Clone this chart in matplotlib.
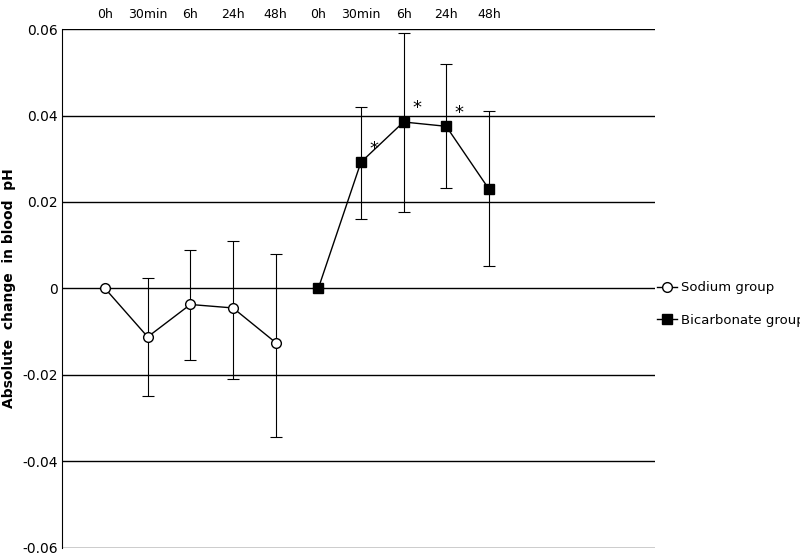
import matplotlib.pyplot as plt
import numpy as np

labels = ['0h', '30min', '6h', '24h', '48h', '0h', '30min', '6h', '24h', '48h']
sodium = [0.0, -0.0112, -0.0037, -0.0045, -0.0125]
sodium_hi = [0.0, 0.0025, 0.009, 0.011, 0.008]
sodium_lo = [0.0, -0.0248, -0.0165, -0.021, -0.0343]
bicarb = [0.0, 0.0292, 0.0385, 0.0375, 0.023]
bicarb_hi = [0.0, 0.042, 0.059, 0.052, 0.041]
bicarb_lo = [0.0, 0.016, 0.0177, 0.0232, 0.0052]
starred = [1, 2, 3]

fig = plt.figure(figsize=(8, 5.58), dpi=100)
ax = fig.add_axes([0.078, 0.018, 0.741, 0.93])

xs = np.arange(1, 6)
xb = np.arange(6, 11)
s = np.array(sodium); b = np.array(bicarb)
ax.errorbar(xs, s, yerr=[s - np.array(sodium_lo), np.array(sodium_hi) - s], color='black',
            lw=1, marker='o', mfc='white', mec='black', ms=7, capsize=4, elinewidth=0.8,
            capthick=0.8, zorder=3)
ax.errorbar(xb, b, yerr=[b - np.array(bicarb_lo), np.array(bicarb_hi) - b], color='black',
            lw=1, marker='s', mfc='black', ms=7, capsize=4, elinewidth=0.8,
            capthick=0.8, zorder=3)
# legend handles without error bars
ax.plot([], [], color='black', lw=1, marker='o', mfc='white', ms=7, label='Sodium group')
ax.plot([], [], color='black', lw=1, marker='s', mfc='black', ms=7, label='Bicarbonate group')
for i in starred:
    ax.text(xb[i] + 0.2, bicarb[i] + 0.002, '*', fontsize=13, ha='left')

ax.set_xlim(0, 13.9)
ax.set_ylim(-0.06, 0.06)
ax.set_yticks(np.arange(-0.06, 0.061, 0.02))
ax.set_yticklabels(['-0.06', '-0.04', '-0.02', '0', '0.02', '0.04', '0.06'], fontsize=10)
ax.yaxis.grid(True, color='black', lw=1)
ax.set_xticks(np.arange(1, 11))
ax.set_xticklabels(labels, fontsize=9)
ax.xaxis.tick_top()
ax.tick_params(axis='x', length=0, pad=6)
ax.tick_params(axis='y', length=0)
for sp in ['top', 'right', 'bottom']:
    ax.spines[sp].set_visible(False)
ax.set_ylabel('Absolute  change  in blood  pH', fontsize=10, fontweight='bold')
ax.legend(loc='center left', bbox_to_anchor=(0.99, 0.47), frameon=False, fontsize=9.5,
          labelspacing=1.5, handlelength=1.5, handletextpad=0.3, borderaxespad=0.2)
fig.savefig('out.png', dpi=100)
